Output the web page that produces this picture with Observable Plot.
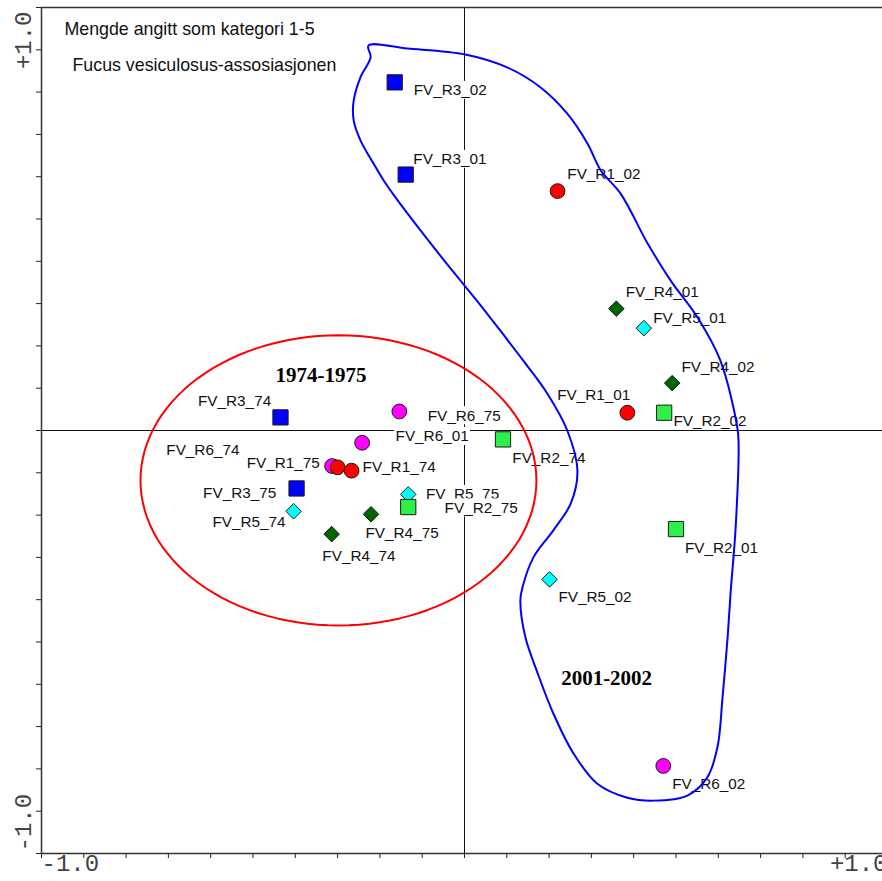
<!DOCTYPE html>
<html>
<head>
<meta charset="utf-8">
<script src="https://cdn.jsdelivr.net/npm/d3@7"></script>
<script src="https://cdn.jsdelivr.net/npm/@observablehq/plot@0.6"></script>
<style>
html, body { margin: 0; padding: 0; background: #fff; overflow: hidden; }
</style>
</head>
<body>
<div id="chart"></div>
<script>
// ---- Data ----
const titleLines = ["Mengde angitt som kategori 1-5", "Fucus vesiculosus-assosiasjonen"];

const sampleNames = [
  "FV_R6_74", "FV_R6_75", "FV_R6_01", "FV_R6_02",
  "FV_R1_75", "FV_R1_74", "FV_R1_01", "FV_R1_02",
  "FV_R3_74", "FV_R3_75", "FV_R3_01", "FV_R3_02",
  "FV_R4_74", "FV_R4_75", "FV_R4_01", "FV_R4_02",
  "FV_R5_74", "FV_R5_75", "FV_R5_01", "FV_R5_02",
  "FV_R2_74", "FV_R2_75", "FV_R2_01", "FV_R2_02"
];
const sampleStation = [
  "R6", "R6", "R6", "R6",
  "R1", "R1", "R1", "R1",
  "R3", "R3", "R3", "R3",
  "R4", "R4", "R4", "R4",
  "R5", "R5", "R5", "R5",
  "R2", "R2", "R2", "R2"
];
// Ordination scores (axis 1, axis 2)
const axis1 = [
  -0.313, -0.154, -0.242, 0.470,
  -0.300, -0.267, 0.385, 0.220,
  -0.435, -0.397, -0.139, -0.165,
  -0.314, -0.221, 0.359, 0.491,
  -0.404, -0.133, 0.424, 0.201,
  0.091, -0.133, 0.500, 0.472
];
const axis2 = [
  -0.084, 0.045, -0.029, -0.793,
  -0.087, -0.095, 0.042, 0.566,
  0.031, -0.137, 0.605, 0.823,
  -0.245, -0.198, 0.288, 0.112,
  -0.191, -0.151, 0.242, -0.352,
  -0.021, -0.181, -0.233, 0.042
];
// Label anchor points (axis units)
const labelAxis1 = [
  -0.705, -0.087, -0.163, 0.491,
  -0.515, -0.241, 0.219, 0.243,
  -0.630, -0.618, -0.121, -0.120,
  -0.336, -0.234, 0.381, 0.513,
  -0.596, -0.091, 0.446, 0.222,
  0.113, -0.047, 0.521, 0.494
];
const labelAxis2 = [
  -0.047, 0.035, -0.014, -0.837,
  -0.078, -0.087, 0.083, 0.605,
  0.069, -0.149, 0.641, 0.804,
  -0.296, -0.243, 0.327, 0.151,
  -0.217, -0.151, 0.265, -0.394,
  -0.066, -0.183, -0.277, 0.022
];

const stations = ["R1", "R2", "R3", "R4", "R5", "R6"];
const stationColors = ["#ff0000", "#2df04a", "#0000ff", "#006400", "#00ffff", "#ff00ff"];
const stationSymbols = ["circle", "square", "square", "diamond2", "diamond2", "circle"];

// Period group annotations
const periodNames = ["1974-1975", "2001-2002"];
const periodAxis1 = [-0.339, 0.336];
const periodAxis2 = [0.130, -0.586];

// 1974-1975 ellipse: centre and radii (axis units)
const ellipseCenter = [-0.298, -0.118];
const ellipseRadii = [0.468, 0.343];

// 2001-2002 hand-drawn envelope (axis units)
const envelopeAxis1 = [
  -0.227, -0.135, 0.002, 0.102, 0.180, 0.243, 0.291, 0.322, 0.369, 0.433,
  0.487, 0.551, 0.605, 0.645, 0.648, 0.641, 0.629, 0.622, 0.610, 0.598,
  0.574, 0.527, 0.447, 0.385, 0.314, 0.258, 0.210, 0.173, 0.144, 0.132,
  0.137, 0.163, 0.210, 0.251, 0.267, 0.243, 0.196, 0.139, 0.097, 0.038,
  -0.033, -0.104, -0.158, -0.191, -0.215, -0.246, -0.262, -0.262, -0.246, -0.222
];
const envelopeAxis2 = [
  0.910, 0.903, 0.889, 0.858, 0.811, 0.749, 0.678, 0.615, 0.560, 0.442,
  0.355, 0.267, 0.165, 0.007, -0.031, -0.229, -0.385, -0.489, -0.631, -0.749,
  -0.820, -0.863, -0.875, -0.868, -0.835, -0.764, -0.669, -0.574, -0.489, -0.402,
  -0.371, -0.300, -0.236, -0.173, -0.095, 0.000, 0.087, 0.165, 0.220, 0.296,
  0.383, 0.473, 0.544, 0.591, 0.631, 0.686, 0.733, 0.780, 0.835, 0.882
];

const axisTicks = [-1.0, -0.9, -0.8, -0.7, -0.6, -0.5, -0.4, -0.3, -0.2, -0.1, 0, 0.1, 0.2, 0.3, 0.4, 0.5, 0.6, 0.7, 0.8, 0.9, 1.0];
const axisEndValues = [-1, 1];
const axisEndLabels = ["-1.0", "+1.0"];

// ---- Build tables ----
const samples = sampleNames.map((name, i) => {
  const k = stations.indexOf(sampleStation[i]);
  return {
    name, x: axis1[i], y: axis2[i], lx: labelAxis1[i], ly: labelAxis2[i],
    color: stationColors[k], symbol: stationSymbols[k]
  };
});
const envelope = envelopeAxis1.map((x, i) => ({x, y: envelopeAxis2[i]}));
const ellipse = d3.range(0, 360, 3).map(a => {
  const t = a * Math.PI / 180;
  return {x: ellipseCenter[0] + ellipseRadii[0] * Math.cos(t), y: ellipseCenter[1] + ellipseRadii[1] * Math.sin(t)};
});
const periods = periodNames.map((name, i) => ({name, x: periodAxis1[i], y: periodAxis2[i]}));

const sansFont = "Liberation Sans, Arial, Helvetica, sans-serif";
const monoFont = "Liberation Mono, DejaVu Sans Mono, monospace";
const serifFont = "Liberation Serif, Times New Roman, serif";

const labelMarks = samples.flatMap(s => [
  Plot.rect([s], {x1: "lx", x2: "lx", y1: "ly", y2: "ly", fill: "white",
    insetLeft: -1, insetRight: -75, insetTop: -9, insetBottom: -9}),
  Plot.text([s], {x: "lx", y: "ly", text: "name", textAnchor: "start",
    fontSize: 15.3, fontFamily: sansFont, fill: "#111"})
]);

const dotOpts = sym => ({
  x: "x", y: "y", fill: "color", stroke: "#1a1a1a", strokeWidth: 1, symbol: sym
});

const tickLabelStyle = {fontFamily: monoFont, fontSize: 24, fill: "#444"};

const chart = Plot.plot({
  width: 882,
  height: 881,
  marginLeft: 41,
  marginRight: -5,
  marginTop: 7,
  marginBottom: 28,
  style: {background: "white", fontFamily: sansFont, color: "#222"},
  x: {domain: [-1, 1], ticks: axisTicks, tickSize: 5, tickFormat: () => "", label: null},
  y: {domain: [-1, 1], ticks: axisTicks, tickSize: 5, tickFormat: () => "", label: null},
  color: {type: "identity"},
  marks: [
    // crosshair at origin
    Plot.ruleX([0], {stroke: "#111", strokeWidth: 1}),
    Plot.ruleY([0], {stroke: "#111", strokeWidth: 1}),
    // frame
    Plot.ruleX([-1], {stroke: "#333", strokeWidth: 1.5}),
    Plot.ruleY([-1, 1], {stroke: "#333", strokeWidth: 1.5}),
    // axis end labels
    Plot.text([axisEndValues[0]], {x: d => d, frameAnchor: "bottom", dy: 17, text: () => axisEndLabels[0],
      textAnchor: "start", ...tickLabelStyle}),
    Plot.text([axisEndValues[1]], {x: d => d, frameAnchor: "bottom", dy: 17, text: () => axisEndLabels[1],
      textAnchor: "end", ...tickLabelStyle}),
    Plot.text([axisEndValues[0]], {y: d => d, frameAnchor: "left", dx: -18, dy: -2, rotate: -90, text: () => axisEndLabels[0],
      textAnchor: "start", ...tickLabelStyle}),
    Plot.text([axisEndValues[1]], {y: d => d, frameAnchor: "left", dx: -18, dy: 4, rotate: -90, text: () => axisEndLabels[1],
      textAnchor: "end", ...tickLabelStyle}),
    // titles
    Plot.text([titleLines[0]], {frameAnchor: "top-left", dx: 23, dy: 14.5, text: d => d, textAnchor: "start",
      fontSize: 17.8, fontFamily: sansFont, fill: "#111"}),
    Plot.text([titleLines[1]], {frameAnchor: "top-left", dx: 31, dy: 50.5, text: d => d, textAnchor: "start",
      fontSize: 17.8, fontFamily: sansFont, fill: "#111"}),
    // sample labels with white boxes
    ...labelMarks,
    // sample markers
    Plot.dot(samples.filter(s => s.symbol === "circle"), {...dotOpts("circle"), r: 7.4}),
    Plot.dot(samples.filter(s => s.symbol === "diamond2"), {...dotOpts("diamond2"), r: 7}),
    Plot.dot(samples.filter(s => s.symbol === "square"), {...dotOpts("square"), r: 8.6}),
    // period names
    Plot.text(periods, {x: "x", y: "y", text: "name", fontFamily: serifFont, fontWeight: "bold",
      fontSize: 21, fill: "#000"}),
    // envelopes
    Plot.line(ellipse, {x: "x", y: "y", curve: "linear-closed", stroke: "#ff0000", strokeWidth: 2}),
    Plot.line(envelope, {x: "x", y: "y", curve: "catmull-rom-closed", stroke: "#0000ff", strokeWidth: 2})
  ]
});

document.getElementById("chart").appendChild(chart);
</script>
</body>
</html>
